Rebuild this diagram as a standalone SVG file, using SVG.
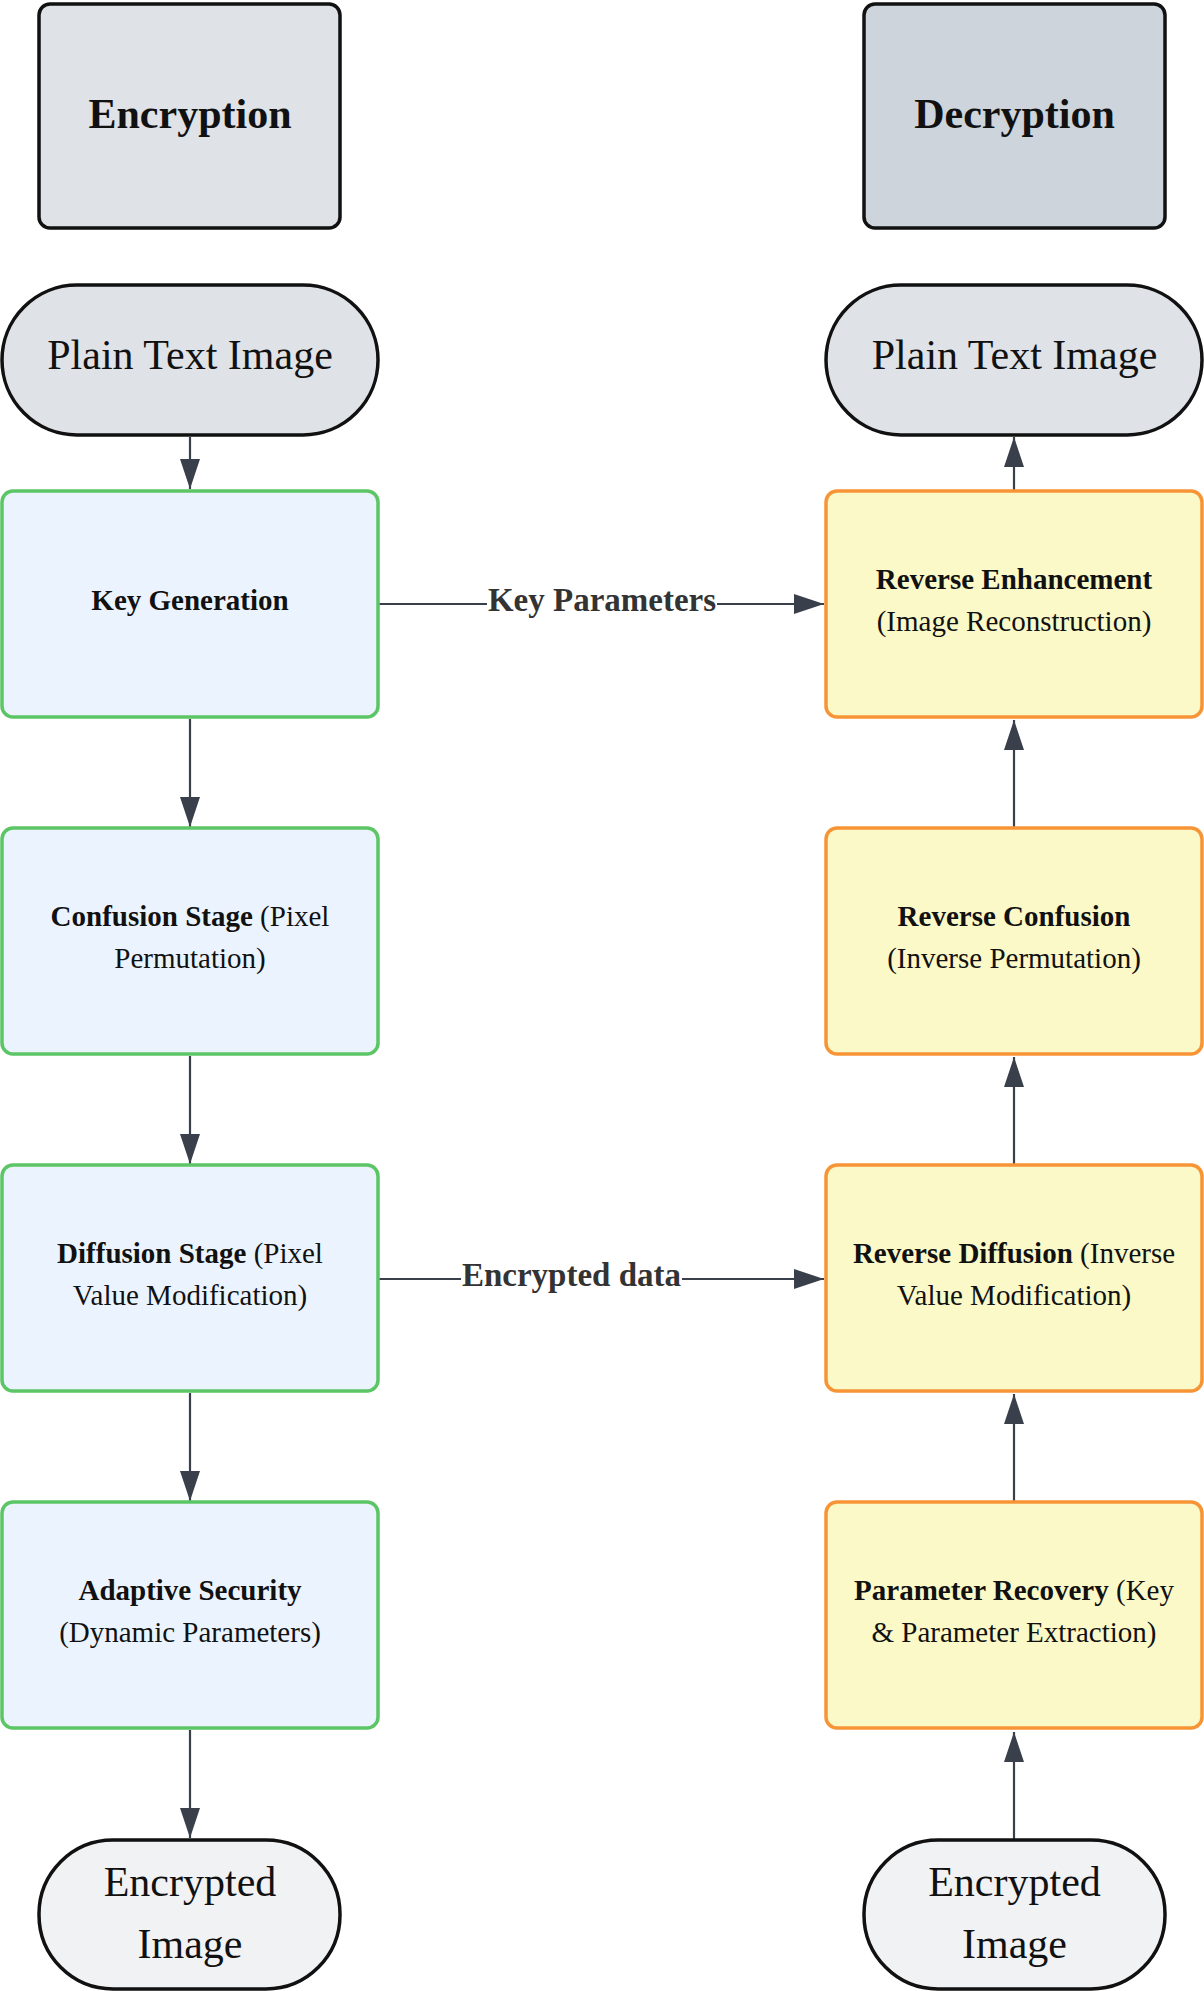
<svg xmlns="http://www.w3.org/2000/svg" width="1204" height="1991" viewBox="0 0 1204 1991">
<defs>
<style>
text{font-family:"Liberation Serif","Times New Roman",serif;fill:#111;text-anchor:middle}
.hdr{stroke:#111;stroke-width:3.5}
.pill{stroke:#111;stroke-width:3.5}
.enc{fill:#ebf4fe;stroke:#5cc565;stroke-width:3.5}
.dec{fill:#fbf9c8;stroke:#f79536;stroke-width:3.5}
.big{font-size:42px}
.bold{font-weight:bold}
.t{font-size:29px}
.lbl{font-size:33px;font-weight:bold;fill:#333}
.edge{stroke:#3a404b;stroke-width:2.2;fill:none}
</style>
<marker id="ah" markerUnits="userSpaceOnUse" markerWidth="30" markerHeight="20" refX="30" refY="10" orient="auto">
<path d="M0,0 L30,10 L0,20 z" fill="#3a404b"/>
</marker>
</defs>
<rect width="1204" height="1991" fill="#ffffff"/>

<g id="connectors">
<line class="edge" x1="190" y1="437" x2="190" y2="489" marker-end="url(#ah)"/>
<line class="edge" x1="190" y1="719" x2="190" y2="827" marker-end="url(#ah)"/>
<line class="edge" x1="190" y1="1056" x2="190" y2="1164" marker-end="url(#ah)"/>
<line class="edge" x1="190" y1="1393" x2="190" y2="1501" marker-end="url(#ah)"/>
<line class="edge" x1="190" y1="1730" x2="190" y2="1838" marker-end="url(#ah)"/>
<line class="edge" x1="1014" y1="1840" x2="1014" y2="1732" marker-end="url(#ah)"/>
<line class="edge" x1="1014" y1="1502" x2="1014" y2="1394" marker-end="url(#ah)"/>
<line class="edge" x1="1014" y1="1165" x2="1014" y2="1057" marker-end="url(#ah)"/>
<line class="edge" x1="1014" y1="828" x2="1014" y2="720" marker-end="url(#ah)"/>
<line class="edge" x1="1014" y1="491" x2="1014" y2="437" marker-end="url(#ah)"/>
<line class="edge" x1="379" y1="604" x2="824" y2="604" marker-end="url(#ah)"/>
<line class="edge" x1="379" y1="1279" x2="824" y2="1279" marker-end="url(#ah)"/>
<rect x="487" y="586" width="230" height="36" fill="#ffffff"/>
<text class="lbl" x="602" y="611">Key Parameters</text>
<rect x="461" y="1261" width="221" height="36" fill="#ffffff"/>
<text class="lbl" x="571.5" y="1286">Encrypted data</text>
</g>

<g id="encryption-header">
<rect class="hdr" x="39" y="4" width="301" height="224" rx="11" fill="#dfe2e7"/>
<text class="big bold" x="190" y="128">Encryption</text>
</g>
<g id="decryption-header">
<rect class="hdr" x="864" y="4" width="301" height="224" rx="11" fill="#cdd4dc"/>
<text class="big bold" x="1014.5" y="128">Decryption</text>
</g>

<g id="plain-text-enc">
<rect class="pill" x="2" y="285" width="376" height="150" rx="75" fill="#dfe2e7"/>
<text class="big" x="190" y="369">Plain Text Image</text>
</g>
<g id="plain-text-dec">
<rect class="pill" x="826" y="285" width="376" height="150" rx="75" fill="#dfe2e7"/>
<text class="big" x="1014.5" y="369">Plain Text Image</text>
</g>

<g id="key-generation">
<rect class="enc" x="2" y="491" width="376" height="226" rx="11"/>
<text class="t bold" x="190" y="610">Key Generation</text>
</g>
<g id="confusion-stage">
<rect class="enc" x="2" y="828" width="376" height="226" rx="11"/>
<text class="t" x="190" y="926"><tspan class="bold">Confusion Stage</tspan> (Pixel</text>
<text class="t" x="190" y="968">Permutation)</text>
</g>
<g id="diffusion-stage">
<rect class="enc" x="2" y="1165" width="376" height="226" rx="11"/>
<text class="t" x="190" y="1263"><tspan class="bold">Diffusion Stage</tspan> (Pixel</text>
<text class="t" x="190" y="1305">Value Modification)</text>
</g>
<g id="adaptive-security">
<rect class="enc" x="2" y="1502" width="376" height="226" rx="11"/>
<text class="t bold" x="190" y="1600">Adaptive Security</text>
<text class="t" x="190" y="1642">(Dynamic Parameters)</text>
</g>
<g id="encrypted-image-enc">
<rect class="pill" x="39" y="1840" width="301" height="149" rx="74" fill="#f1f2f4"/>
<text class="big" x="190" y="1896">Encrypted</text>
<text class="big" x="190" y="1958">Image</text>
</g>

<g id="reverse-enhancement">
<rect class="dec" x="826" y="491" width="376" height="226" rx="11"/>
<text class="t bold" x="1014" y="589">Reverse Enhancement</text>
<text class="t" x="1014" y="631">(Image Reconstruction)</text>
</g>
<g id="reverse-confusion">
<rect class="dec" x="826" y="828" width="376" height="226" rx="11"/>
<text class="t bold" x="1014" y="926">Reverse Confusion</text>
<text class="t" x="1014" y="968">(Inverse Permutation)</text>
</g>
<g id="reverse-diffusion">
<rect class="dec" x="826" y="1165" width="376" height="226" rx="11"/>
<text class="t" x="1014" y="1263"><tspan class="bold">Reverse Diffusion</tspan> (Inverse</text>
<text class="t" x="1014" y="1305">Value Modification)</text>
</g>
<g id="parameter-recovery">
<rect class="dec" x="826" y="1502" width="376" height="226" rx="11"/>
<text class="t" x="1014" y="1600"><tspan class="bold">Parameter Recovery</tspan> (Key</text>
<text class="t" x="1014" y="1642">&amp; Parameter Extraction)</text>
</g>
<g id="encrypted-image-dec">
<rect class="pill" x="864" y="1840" width="301" height="149" rx="74" fill="#f1f2f4"/>
<text class="big" x="1014.5" y="1896">Encrypted</text>
<text class="big" x="1014.5" y="1958">Image</text>
</g>
</svg>
